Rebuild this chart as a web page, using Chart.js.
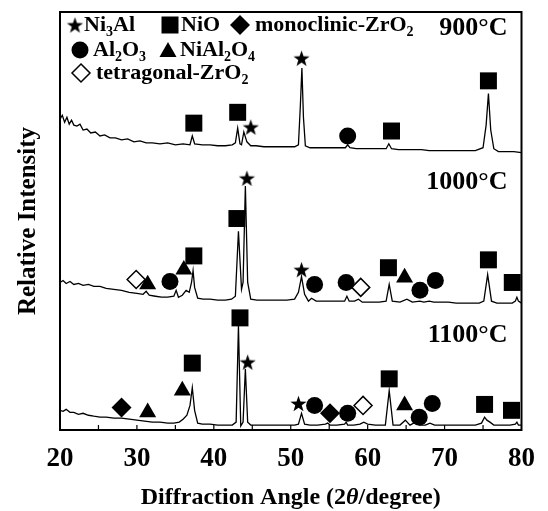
<!DOCTYPE html>
<html><head><meta charset="utf-8">
<script src="https://cdn.jsdelivr.net/npm/chart.js@4.4.0/dist/chart.umd.min.js"></script>
<style>html,body{margin:0;padding:0;background:#fff}</style>
</head><body>
<canvas id="c" width="548" height="511"></canvas>
<script>
// ---- data (2θ in degrees, intensity in arbitrary stacked units) ----
const angle900=[20.0,20.3,20.6,20.9,21.2,21.5,21.8,22.2,22.6,23.0,23.5,24.0,24.6,25.2,25.8,26.5,27.2,28.0,28.8,29.6,30.4,31.2,32.0,33.0,34.0,35.0,36.0,36.9,37.2,37.5,38.5,39.5,40.5,41.5,42.4,42.8,43.1,43.4,43.6,43.9,44.3,44.8,45.5,46.5,47.5,48.5,49.5,50.5,51.0,51.25,51.45,51.65,51.9,52.5,53.5,54.5,55.5,56.5,57.1,57.4,57.7,58.5,59.5,60.5,61.5,62.4,62.75,63.1,64,65,66,67,68,69,70,71,72,73,74,75.0,75.4,75.7,76.0,76.4,77,78,79,80];
const int900=[316,320,313,318,311,315,310,309,311,305,306,302,303,299,300,297,297,295,296,293,294,292,292,291,292,290,291,290,299,291,290,290,289,289,290,292,307,291,290,303,293,289,289,288,288,288,288,288,290,330,368,318,289,287,287,287,287,287,287,290,287,286,286,286,286,286,291,286,285,285,285,285,284,284,284,284,284,284,284,287,310,342,305,286,283,283,283,282];

const angle1000=[20,20.4,20.8,21.3,21.8,22.4,23,23.7,24.4,25.2,26,27,28,29,30,30.8,31.2,31.6,32.4,33.2,34,34.8,35.1,35.4,35.9,36.4,36.8,37.1,37.3,37.5,37.9,38.6,39.5,40.5,41.5,42.3,42.8,43.2,43.6,43.8,44.1,44.4,44.8,45.6,46.5,47.5,48.5,49.5,50.5,51.0,51.4,51.8,52.3,52.7,53.3,54.5,55.5,56.5,57.0,57.3,57.6,58.3,58.8,59.3,60.5,61.5,62.4,62.8,63.2,64.2,65.1,65.8,66.8,67.3,68.0,68.6,69.5,70.5,71.5,72.5,73.5,74.5,75.1,75.6,76.1,76.8,77.8,78.8,79.2,79.4,79.6,80];
const int1000=[150,152,149,151,148,149,147,148,146,146,144,143,142,140,139,138,141,137,136,135,135,136,142,135,137,142,140,150,162,145,134,133,133,132,132,133,136,202,143,150,248,150,133,132,132,132,132,132,133,140,156,138,131,134,131,131,131,131,131,136,131,131,133,130,130,130,131,148,131,130,133,130,131,130,131,130,130,130,129,129,129,129,131,158,131,129,129,129,131,135,131,129];

const angle1100=[20,20.4,20.8,21.3,21.8,22.4,23,23.7,24.4,25.2,26,27,28,29,30,31,32,33,34,34.8,35.5,36.0,36.5,36.9,37.2,37.5,37.9,38.5,39.5,40.5,41.5,42.4,42.9,43.2,43.5,43.8,44.1,44.4,44.8,45.5,46.5,47.5,48.5,49.5,50.5,51.0,51.4,51.8,52.5,53.5,54.5,54.8,55.1,56,57.0,57.2,57.4,58.2,59,59.5,60,61,62.3,62.8,63.3,64.2,64.9,65.5,66.2,66.8,67.5,68.1,68.7,70,71,72,73,74,74.8,75.2,75.5,75.9,76.4,77.5,78.5,79.2,79.4,79.6,80];
const int1100=[20,19,21,18,18,16,17,15,14,13,13,12,12,11,10,9,8,8,7,7,8,11,15,25,43,20,7,6,6,5,5,5,8,106,4,8,62,8,5,5,5,5,5,5,5,6,17,6,5,5,6,7,5,5,6,8,5,5,6,8,6,5,5,40,5,5,10,5,8,5,5,7,5,5,5,5,5,5,7,13,10,8,5,5,5,6,8,5,5];

// phase markers [2θ, height]
const ni3alMarks=[[51.4,378],[44.8,308],[44.3,256],[51.4,163],[44.4,69],[51.0,27]];
const nioMarks=[[37.4,312],[43.1,323],[63.1,304],[75.7,355],[37.4,177],[43.0,215],[62.7,165],[75.7,173],[78.8,150],[37.2,68],[43.4,114],[62.8,52],[75.2,26],[78.7,20]];
const monoMarks=[[28.0,23],[55.1,17]];
const al2o3Marks=[[57.4,299],[34.3,151],[53.1,148],[57.2,150],[66.8,142],[68.8,152],[53.1,25],[57.4,17],[66.7,13],[68.4,27]];
const nial2o4Marks=[[31.4,148],[36.1,163],[64.8,155],[31.4,18],[35.9,40],[64.8,25]];
const tetraMarks=[[29.9,153],[59.1,145],[59.4,25]];

const tickValues=[20,30,40,50,60,70,80];
const tickLabels=['20','30','40','50','60','70','80'];
const minorTicks=[25,30,35,40,45,50,55,60,65,70,75];
const tempLabels=['900°C','1000°C','1100°C'];
const legendNames=['Ni_3Al','NiO','monoclinic-ZrO_2','Al_2O_3','NiAl_2O_4','tetragonal-ZrO_2'];
const xTitle='Diffraction Angle (2|θ|/degree)';
const yTitle='Relative Intensity';

// ---- helpers ----
const FONT='"Liberation Serif", "Times New Roman", serif';
function makeStar(R,r){
  const s=Math.ceil(R*2+2);const c=document.createElement('canvas');c.width=s;c.height=s;
  const g=c.getContext('2d');g.fillStyle='#000';g.beginPath();
  for(let i=0;i<10;i++){const a=-Math.PI/2+i*Math.PI/5;const rr=i%2?r:R;g.lineTo(s/2+rr*Math.cos(a),s/2+0.8+rr*Math.sin(a));}
  g.closePath();g.fill();return c;
}
const starImg=makeStar(8.5,3.4);
const pts=(xs,ys)=>xs.map((x,i)=>({x:x,y:ys[i]}));
const mpts=a=>a.map(p=>({x:p[0],y:p[1]}));

function parseRich(s){ // '_d' -> subscript digit, |...| -> italic
  const out=[];let buf='';let i=0;
  while(i<s.length){
    const ch=s[i];
    if(ch==='_'){if(buf){out.push([buf,'n']);buf='';}out.push([s[i+1],'sub']);i+=2;continue;}
    if(ch==='|'){if(buf){out.push([buf,'n']);buf='';}const j=s.indexOf('|',i+1);out.push([s.slice(i+1,j),'i']);i=j+1;continue;}
    buf+=ch;i++;
  }
  if(buf)out.push([buf,'n']);return out;
}
function fontFor(m,size){const fs=m==='sub'?Math.round(size*0.62):size;return (m==='i'?'italic ':'')+'bold '+fs+'px '+FONT;}
function richWidth(ctx,parts,size){let w=0;for(const [t,m] of parts){ctx.font=fontFor(m,size);w+=ctx.measureText(t).width;}return w;}
function richText(ctx,x,y,str,size,align){
  const parts=parseRich(str);let cx=x;
  if(align==='center')cx=x-richWidth(ctx,parts,size)/2;
  ctx.textAlign='left';ctx.textBaseline='middle';ctx.fillStyle='#000';
  for(const [t,m] of parts){ctx.font=fontFor(m,size);ctx.fillText(t,cx,y+(m==='sub'?size*0.32:0));cx+=ctx.measureText(t).width;}
}
function shape(ctx,kind,x,y){
  ctx.save();ctx.fillStyle='#000';ctx.strokeStyle='#000';ctx.lineWidth=1.5;ctx.beginPath();
  if(kind==='star'){ctx.drawImage(starImg,x-starImg.width/2,y-starImg.height/2);ctx.restore();return;}
  if(kind==='square'){ctx.rect(x-8.5,y-8.5,17,17);ctx.fill();}
  else if(kind==='circle'){ctx.arc(x,y,8.5,0,Math.PI*2);ctx.fill();}
  else if(kind==='diamond'||kind==='open'){const r=kind==='open'?9:10;ctx.moveTo(x,y-r);ctx.lineTo(x+r,y);ctx.lineTo(x,y+r);ctx.lineTo(x-r,y);ctx.closePath();
    if(kind==='open'){ctx.fillStyle='#fff';ctx.fill();ctx.stroke();}else ctx.fill();}
  else if(kind==='triangle'){ctx.moveTo(x,y-8);ctx.lineTo(x+8.5,y+7);ctx.lineTo(x-8.5,y+7);ctx.closePath();ctx.fill();}
  ctx.restore();
}

const decor={
  id:'decor',
  afterDraw(chart){
    const ctx=chart.ctx;const a=chart.chartArea;const xs=chart.scales.x;
    ctx.save();
    // frame
    ctx.strokeStyle='#000';ctx.lineWidth=2;ctx.strokeRect(a.left,a.top,a.right-a.left,a.bottom-a.top);
    // inner ticks
    ctx.lineWidth=1.2;ctx.beginPath();
    for(const v of minorTicks){const px=xs.getPixelForValue(v);ctx.moveTo(px,a.bottom);ctx.lineTo(px,a.bottom-5);}
    ctx.stroke();
    // legend
    const rows=[[ ['star',75,25,84,0],['square',170,25,181,1],['diamond',240,25,255,2] ],
                [ ['circle',80,50,93,3],['triangle',168,50,180,4] ],
                [ ['open',81,73,96,5] ]];
    for(const row of rows)for(const [k,sx,sy,tx,ni] of row){shape(ctx,k,sx,sy);richText(ctx,tx,sy,legendNames[ni],22,'left');}
    // temperature labels
    ctx.font='bold 26px '+FONT;ctx.textAlign='right';ctx.textBaseline='middle';ctx.fillStyle='#000';
    const ty=[28,182,335];
    tempLabels.forEach((t,i)=>ctx.fillText(t,a.right-14,ty[i]));
    // axis titles
    richText(ctx,(a.left+a.right)/2,498,xTitle,24,'center');
    ctx.save();ctx.translate(29,(a.top+a.bottom)/2);ctx.rotate(-Math.PI/2);
    ctx.font='bold 25px '+FONT;ctx.textAlign='center';ctx.textBaseline='middle';ctx.fillText(yTitle,0,0);
    ctx.restore();
    ctx.restore();
  }
};

const lineDs=(d)=>({type:'line',data:d,borderColor:'#000',borderWidth:1.3,pointRadius:0,tension:0,fill:false,order:2});
const markDs=(d,style,extra)=>Object.assign({type:'scatter',data:d,pointStyle:style,backgroundColor:'#000',borderColor:'#000',borderWidth:0,order:0,clip:false},extra);

new Chart(document.getElementById('c'),{
  data:{datasets:[
    lineDs(pts(angle900,int900)),
    lineDs(pts(angle1000,int1000)),
    lineDs(pts(angle1100,int1100)),
    markDs(mpts(ni3alMarks),starImg,{pointRadius:8}),
    markDs(mpts(nioMarks),'rect',{pointRadius:12}),
    markDs(mpts(monoMarks),'rectRot',{pointRadius:10}),
    markDs(mpts(al2o3Marks),'circle',{pointRadius:8.5}),
    markDs(mpts(nial2o4Marks),'triangle',{pointRadius:9.8}),
    markDs(mpts(tetraMarks),'rectRot',{pointRadius:9,backgroundColor:'#fff',borderWidth:1.5})
  ]},
  options:{
    responsive:false,animation:false,devicePixelRatio:1,events:[],
    layout:{padding:{left:60,right:23,top:5,bottom:0}},
    plugins:{legend:{display:false},tooltip:{enabled:false}},
    scales:{
      x:{type:'linear',min:20,max:80,
        afterFit:s=>{s.height=81;},
        afterBuildTicks:s=>{s.ticks=tickValues.map(v=>({value:v}));},
        grid:{display:false,drawTicks:false},border:{display:false},
        ticks:{color:'#000',padding:13,maxRotation:0,autoSkip:false,font:{family:'"Liberation Serif"',size:27,weight:'bold'},
          callback:(v)=>{const i=tickValues.indexOf(v);return i>=0?tickLabels[i]:'';}}},
      y:{type:'linear',min:0,max:425,display:false}
    }
  },
  plugins:[decor]
});
</script>
</body></html>
